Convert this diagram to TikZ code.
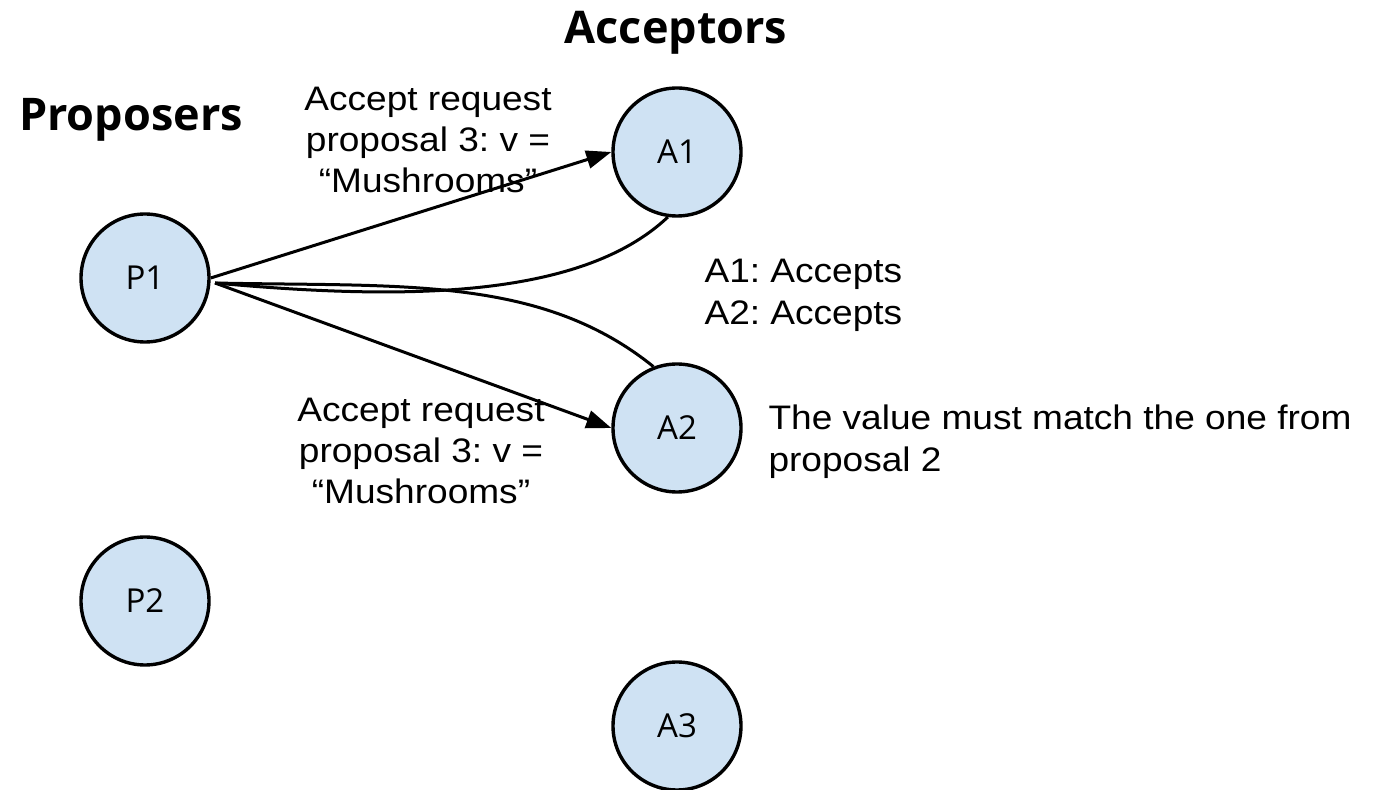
\documentclass[tikz,border=0pt]{standalone}
\usepackage{fontspec}
\setmainfont{Liberation Sans}[FakeStretch=1.09]
\newfontfamily\labelfont{Open Sans}
\newfontfamily\headfont{Open Sans}
\usepackage{tikz}
\usetikzlibrary{arrows.meta,positioning}
\definecolor{nodeblue}{HTML}{CFE2F3}
\frenchspacing

\begin{document}
\begin{tikzpicture}[x=1pt, y=1pt,
  agent/.style={circle, draw, line width=3.4pt, fill=nodeblue, minimum size=128pt, inner sep=0pt, font=\labelfont\fontsize{33}{40}\selectfont},
  heading/.style={font=\headfont\bfseries\fontsize{45}{52}\selectfont},
  msg/.style={align=center, font=\fontsize{34}{41}\selectfont},
  note/.style={align=left, anchor=west, font=\fontsize{34}{42}\selectfont},
  req/.style={-{Triangle[length=25pt, width=18pt]}, line width=3pt},
  reply/.style={line width=3pt}
]
\useasboundingbox (0,0) rectangle (1374,790);

% --------- TITLES ----------
\node[heading] (proposers) at (131,670) {Proposers};
\node[heading] (acceptors) at (676,757) {Acceptors};

% --------- NODES ----------
\node[agent] (P1) at (145,512) {P1};
\node[agent] (P2) at (145,189) {P2};
\node[agent] (A1) at (677,638) {A1};
\node[agent] (A2) at (677,362) {A2};
\node[agent] (A3) at (677,64) {A3};

% --------- MESSAGES ----------
\node[msg] (reqA1) at (428,650) {Accept request\\proposal 3: v =\\“Mushrooms”};
\node[msg] (reqA2) at (421,339) {Accept request\\proposal 3: v =\\“Mushrooms”};
\node[note] (accepts) at (701,495) {A1: Accepts\\A2: Accepts};
\node[note] (match) at (765,348) {The value must match the one from\\proposal 2};

% accept requests
\coordinate (fan) at (215,507);
\draw[req] (P1.east) -- (A1.west);
\draw[req] (fan) -- (A2.west);

% replies back to P1
\draw[reply] (fan) .. controls (400,490) and (580,490) .. (A1.262);
\draw[reply] (fan) .. controls (400,503) and (540,515) .. (A2.111);

\end{tikzpicture}
\end{document}
